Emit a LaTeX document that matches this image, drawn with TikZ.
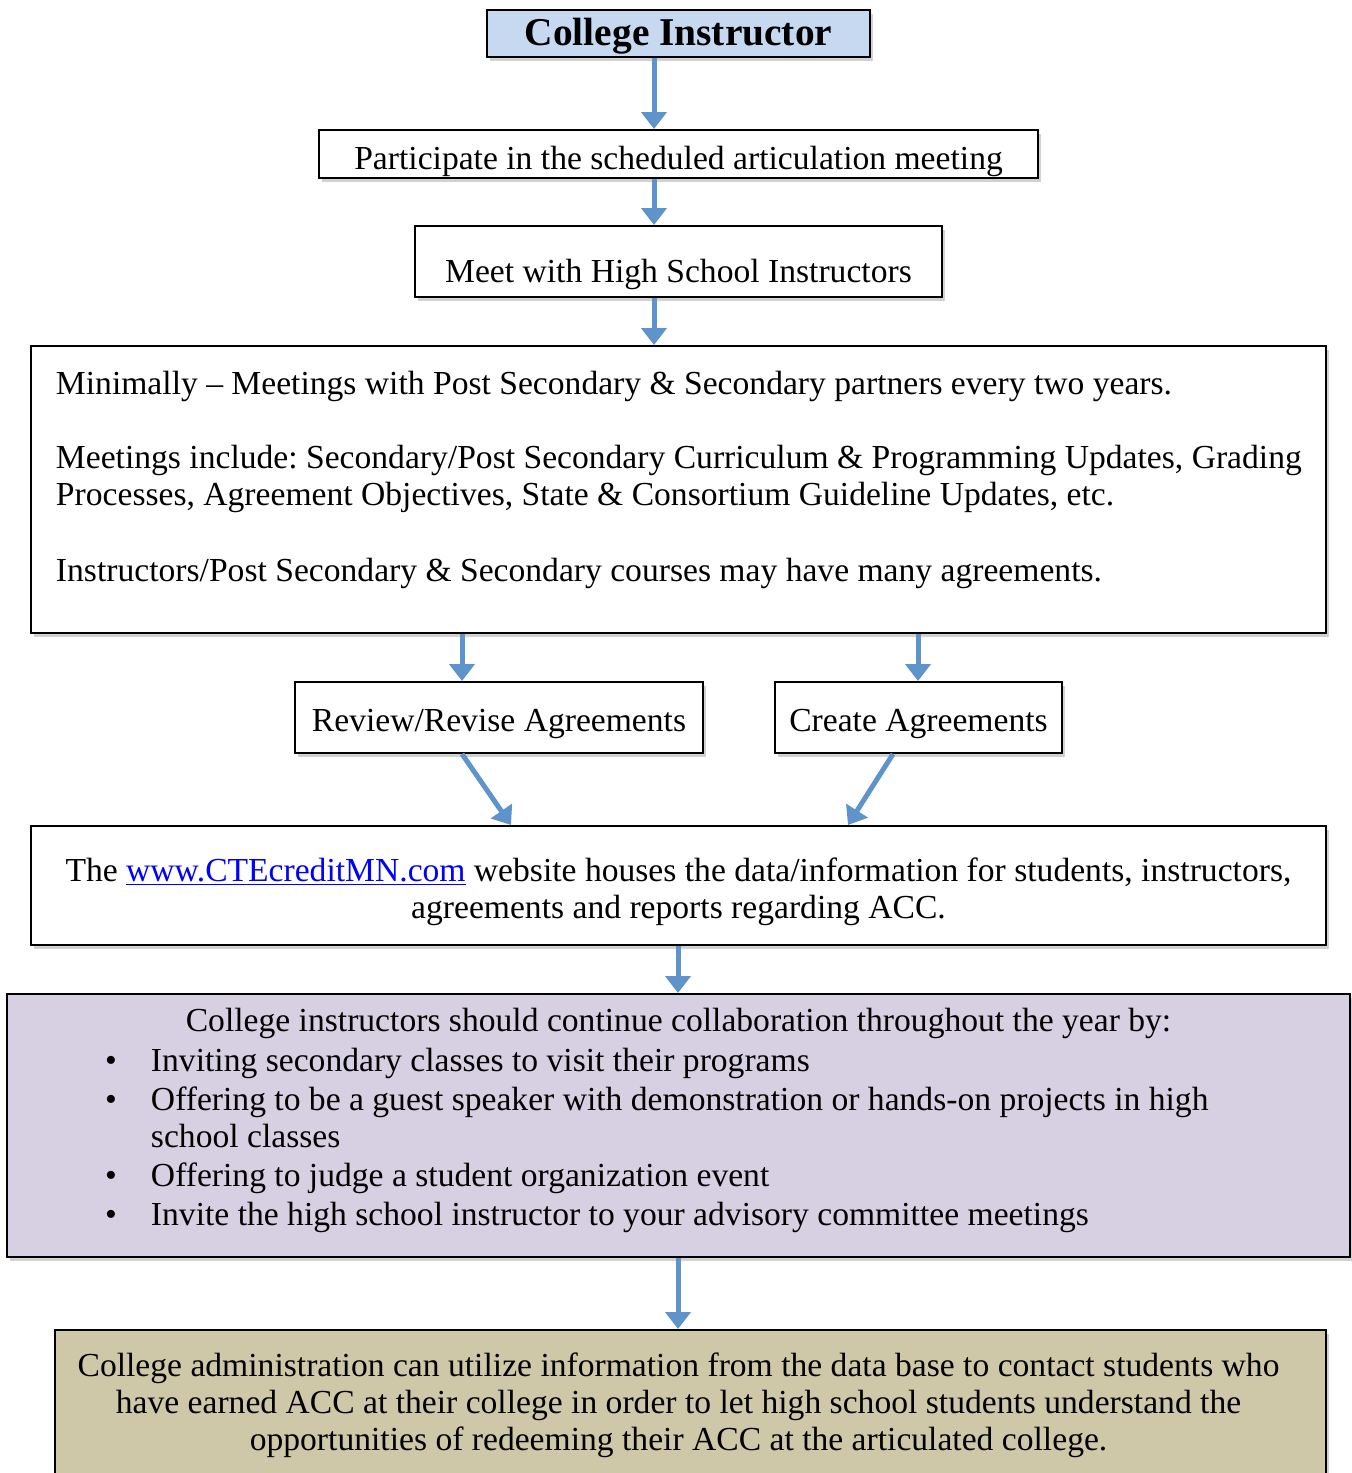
\documentclass[tikz,border=0pt]{standalone}
\usepackage{fontspec}
\setmainfont{Liberation Serif}
\usepackage{enumitem}
\usetikzlibrary{arrows.meta, shadows, positioning}

\definecolor{instrblue}{RGB}{198,217,240}
\definecolor{collablilac}{RGB}{215,207,226}
\definecolor{admintan}{RGB}{207,200,168}
\definecolor{arrowblue}{RGB}{94,148,203}
\definecolor{linkblue}{RGB}{0,0,255}

\newcommand{\bodysize}{\fontsize{16.8pt}{18.5pt}\selectfont\frenchspacing}

\begin{document}
\begin{tikzpicture}[x=0.5pt, y=-0.5pt]
  \tikzset{flowbox/.style={draw, line width=1pt, fill=white, anchor=north west, inner sep=0pt, font=\bodysize,
             drop shadow={shadow xshift=1.5pt, shadow yshift=-2pt, fill=black, opacity=.18}},
           flowarrow/.style={line width=2.5pt, draw=arrowblue, fill=arrowblue,
             -{Triangle[width=12.5pt,length=8.5pt]}}}
  \useasboundingbox (0,0) rectangle (1351,1473);

  % boxes
  \node[flowbox, fill=instrblue, minimum width=191.5pt, text height=17.5pt, text depth=6pt,
        font=\fontsize{19.7pt}{22pt}\selectfont\bfseries] (instr) at (486,9) {College Instructor};
  \node[flowbox, minimum width=359.5pt, text height=19.5pt, text depth=4.5pt] (meeting) at (318,129)
        {Participate in the scheduled articulation meeting};
  \node[flowbox, minimum width=263.5pt, text height=28pt, text depth=7.5pt] (hsmeet) at (414,225)
        {Meet with High School Instructors};
  \node[flowbox] (partners) at (30,345) {\begin{minipage}[c][143.5pt][t]{647.5pt}\raggedright\leftskip=12.5pt
        \rule{0pt}{24pt}Minimally – Meetings with Post Secondary \& Secondary partners every two years.\par\vspace{18.5pt}
        Meetings include: Secondary/Post Secondary Curriculum \& Programming Updates, Grading\\
        Processes, Agreement Objectives, State \& Consortium Guideline Updates, etc.\par\vspace{19.5pt}
        Instructors/Post Secondary \& Secondary courses may have many agreements.
        \end{minipage}};
  \node[flowbox, minimum width=204pt, text height=24.5pt, text depth=11pt] (revise) at (294,681)
        {Review/Revise Agreements};
  \node[flowbox, minimum width=143.5pt, text height=24.5pt, text depth=11pt] (create) at (774,681)
        {Create Agreements};
  \node[flowbox] (website) at (30,825) {\begin{minipage}[c][59.5pt][t]{647.5pt}\centering
        \rule{0pt}{27.5pt}The \textcolor{linkblue}{\underline{www.CTEcreditMN.com}} website houses the data/information for students, instructors,\\
        agreements and reports regarding ACC.
        \end{minipage}};
  \node[flowbox, fill=collablilac] (collab) at (6,993) {\begin{minipage}[c][131.5pt][t]{671.5pt}
        {\centering\rule{0pt}{18.5pt}College instructors should continue collaboration throughout the year by:\par}
        \begin{itemize}[leftmargin=72pt, labelwidth=23pt, labelsep=0pt, align=left, topsep=1.5pt,
                        itemsep=1pt, parsep=0pt, partopsep=0pt]
          \item Inviting secondary classes to visit their programs
          \item Offering to be a guest speaker with demonstration or hands-on projects in high\newline school classes
          \item Offering to judge a student organization event
          \item Invite the high school instructor to your advisory committee meetings
        \end{itemize}
        \end{minipage}};
  \node[flowbox, fill=admintan] (admin) at (54,1329) {\begin{minipage}[c][80pt][t]{635.5pt}
        \centering\leftskip=0pt plus 1fil\rightskip=12pt plus 1fil
        \rule{0pt}{23pt}College administration can utilize information from the data base to contact students who\\
        have earned ACC at their college in order to let high school students understand the\\
        opportunities of redeeming their ACC at the articulated college.
        \end{minipage}};

  % arrow columns
  \coordinate (upper) at (654,0);
  \coordinate (lower) at (678,0);
  \coordinate (revtop) at (462,0);
  \coordinate (revend) at (511,0);
  \coordinate (crtop) at (918,0);
  \coordinate (crfoot) at (893,0);
  \coordinate (crend) at (848,0);

  \draw[flowarrow] (instr.south -| upper) -- (meeting.north -| upper);
  \draw[flowarrow] (meeting.south -| upper) -- (hsmeet.north -| upper);
  \draw[flowarrow] (hsmeet.south -| upper) -- (partners.north -| upper);
  \draw[flowarrow] (partners.south -| revtop) -- (revise.north -| revtop);
  \draw[flowarrow] (partners.south -| crtop) -- (create.north -| crtop);
  \draw[flowarrow] (revise.south -| revtop) -- (website.north -| revend);
  \draw[flowarrow] (create.south -| crfoot) -- (website.north -| crend);
  \draw[flowarrow] (website.south -| lower) -- (collab.north -| lower);
  \draw[flowarrow] (collab.south -| lower) -- (admin.north -| lower);
\end{tikzpicture}
\end{document}
